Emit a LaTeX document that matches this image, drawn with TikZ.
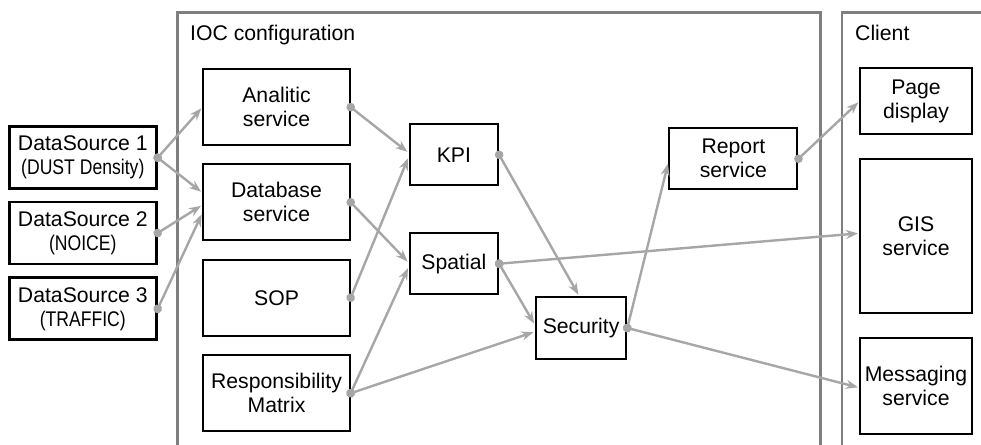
\documentclass[tikz,border=0pt]{standalone}
\usepackage{fontspec}
\setmainfont{Liberation Sans}
\usetikzlibrary{arrows.meta,calc}
\definecolor{conn}{HTML}{A6A6A6}
\definecolor{frame}{HTML}{7F7F7F}
\tikzset{
  box/.style={draw=black,line width=2pt,rectangle,inner sep=0pt,align=center,
    font=\fontsize{21.2pt}{24pt}\selectfont},
  dsbox/.style={box,line width=2.8pt,minimum width=147pt,minimum height=62pt},
  iocbox/.style={box,minimum width=146.4pt,minimum height=76.3pt},
  midbox/.style={box,minimum height=61pt},
  clbox/.style={box,minimum width=111.1pt},
  container/.style={draw=frame,line width=2.6pt},
  label/.style={anchor=base west,inner sep=0pt,font=\fontsize{21.2pt}{24pt}\selectfont},
  link/.style={draw=conn,line width=2.4pt,
    {Circle[length=8.5pt]}-{Stealth[length=12pt,width=9pt]},
    shorten <=-4.25pt,shorten >=1.5pt},
}
\newcommand{\narrow}[1]{\scalebox{0.83}[1]{#1}}
\begin{document}
\begin{tikzpicture}[x=1pt,y=-1pt]
\useasboundingbox (0,0) rectangle (981,444);
\begin{scope}
\clip (0,0) rectangle (981,444);
% containers
\draw[container] (177.7,470) -- (177.7,12.3) -- (820.7,12.3) -- (820.7,470);
\draw[container] (842,470) -- (842,12.3) -- (995,12.3);
\end{scope}
\node[label] (ioclbl) at (190,40.7) {IOC configuration};
\node[label] (cllbl) at (855,40.7) {Client};

% data sources
\node[dsbox] (ds1) at (82.8,157.7) {DataSource 1\\\narrow{(DUST Density)}};
\node[dsbox] (ds2) at (82.8,233) {DataSource 2\\\narrow{(NOICE)}};
\node[dsbox] (ds3) at (82.8,308.8) {DataSource 3\\\narrow{(TRAFFIC)}};

% IOC services
\node[iocbox] (ana) at (276.5,107.2) {Analitic\\service};
\node[iocbox] (db) at (276.5,202.3) {Database\\service};
\node[iocbox] (sop) at (276.5,297.7) {SOP};
\node[iocbox] (rm) at (276.5,393.2) {Responsibility\\Matrix};

\node[midbox,minimum width=88.5pt] (kpi) at (453.9,154.8) {KPI};
\node[midbox,minimum width=88.5pt] (spa) at (453.9,263.7) {Spatial};
\node[midbox,minimum width=90.4pt,minimum height=62pt] (sec) at (581.1,328) {Security};
\node[midbox,minimum width=128.1pt] (rep) at (733.4,158.8) {Report\\service};

% client
\node[clbox,minimum height=66pt] (page) at (916,101.3) {Page\\display};
\node[clbox,minimum height=153.7pt] (gis) at (916,235.9) {GIS\\service};
\node[clbox,minimum height=96.6pt] (msg) at (916,386) {Messaging\\service};

% connectors
\draw[link] (ds1.east) -- (ana.west);
\draw[link] (ds1.east) -- ($(db.west)+(0,-9.6)$);
\draw[link] (ds2.east) -- ($(db.west)+(0,2.7)$);
\draw[link] (ds3.east) -- ($(db.west)+(0,10.7)$);

\draw[link] (ana.east) -- ($(kpi.west)+(0,-2)$);
\draw[link] (sop.east) -- ($(kpi.west)+(0,2)$);
\draw[link] (db.east) -- ($(spa.west)+(0,-1)$);
\draw[link] (rm.east) -- ($(spa.west)+(0,3)$);
\draw[link] (rm.east) -- ($(sec.west)+(0,3.7)$);
\draw[link] (spa.east) -- ($(sec.west)+(0,-3)$);
\draw[link] (kpi.east) -- ($(sec.north)+(-2,0)$);
\draw[link] (spa.east) -- ($(gis.west)+(0,-2.6)$);
\draw[link] (sec.east) -- ($(rep.west)+(0,3.5)$);
\draw[link] (sec.east) -- ($(msg.west)+(0,1.7)$);
\draw[link] (rep.east) -- (page.west);
\end{tikzpicture}
\end{document}
